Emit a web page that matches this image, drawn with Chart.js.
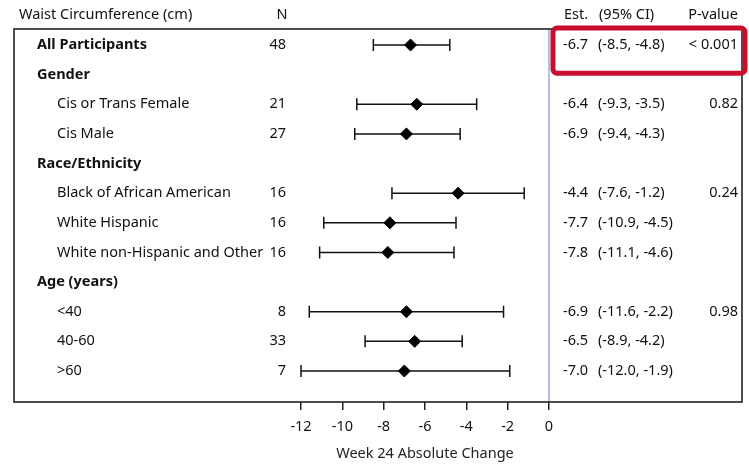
<!DOCTYPE html>
<html><head><meta charset="utf-8">
<script src="https://cdn.jsdelivr.net/npm/chart.js@4/dist/chart.umd.min.js"></script>
<style>html,body{margin:0;padding:0;background:#fff}#wrap{width:749px;height:465px;position:relative}</style>
</head><body><div id="wrap"><canvas id="c"></canvas></div>
<script>
// ---- data ----
const rowLabels = ["All Participants","Gender","Cis or Trans Female","Cis Male","Race/Ethnicity","Black of African American","White Hispanic","White non-Hispanic and Other","Age (years)","<40","40-60",">60"];
const rowIsHeader = [true,true,false,false,true,false,false,false,true,false,false,false];
const nValues = ["48","","21","27","","16","16","16","","8","33","7"];
const estimates = [-6.7,null,-6.4,-6.9,null,-4.4,-7.7,-7.8,null,-6.9,-6.5,-7.0];
const ciLower = [-8.5,null,-9.3,-9.4,null,-7.6,-10.9,-11.1,null,-11.6,-8.9,-12.0];
const ciUpper = [-4.8,null,-3.5,-4.3,null,-1.2,-4.5,-4.6,null,-2.2,-4.2,-1.9];
const pValues = ["< 0.001","","0.82","","","0.24","","","","0.98","",""];
const xTicks = [-12,-10,-8,-6,-4,-2,0];
const axisTitle = "Week 24 Absolute Change";
const colHeaders = {label:"Waist Circumference (cm)", n:"N", est:"Est.", ci:"(95% CI)", p:"P-value"};

const FONT = "'Noto Sans', 'Open Sans', sans-serif";
const fmt = v => v.toFixed(1);

const points = [];
estimates.forEach((e,i)=>{ if(e!==null) points.push({x:e,y:i}); });

const forestPlugin = {
  id:'forest',
  beforeDatasetsDraw(chart){
    const {ctx, chartArea:a, scales:{x,y}} = chart;
    ctx.save();
    const x0 = x.getPixelForValue(0);
    ctx.strokeStyle = '#8d90d6'; ctx.lineWidth = 1.2;
    ctx.beginPath(); ctx.moveTo(x0, a.top); ctx.lineTo(x0, a.bottom); ctx.stroke();
    ctx.strokeStyle = '#111'; ctx.lineWidth = 1.5;
    estimates.forEach((e,i)=>{
      if(e===null) return;
      const yy = y.getPixelForValue(i);
      const xl = x.getPixelForValue(ciLower[i]), xh = x.getPixelForValue(ciUpper[i]);
      ctx.beginPath();
      ctx.moveTo(xl, yy); ctx.lineTo(xh, yy);
      ctx.moveTo(xl, yy-6); ctx.lineTo(xl, yy+6);
      ctx.moveTo(xh, yy-6); ctx.lineTo(xh, yy+6);
      ctx.stroke();
    });
    ctx.restore();
  },
  afterDraw(chart){
    const {ctx, chartArea:a, scales:{x,y}} = chart;
    ctx.save();
    // frame
    ctx.strokeStyle = '#222'; ctx.lineWidth = 1.6;
    ctx.strokeRect(a.left, a.top, a.right-a.left, a.bottom-a.top);
    const x0 = x.getPixelForValue(0);
    const nRight = x.getPixelForValue(-12) - 15;
    ctx.fillStyle = '#111';
    ctx.textBaseline = 'middle';
    const fs = 14.5;
    // headers
    const hy = a.top - 14;
    ctx.font = `${fs}px ${FONT}`;
    ctx.textAlign = 'left'; ctx.fillText(colHeaders.label, a.left+5, hy);
    ctx.textAlign = 'center'; ctx.fillText(colHeaders.n, nRight-4, hy);
    ctx.textAlign = 'left'; ctx.fillText(colHeaders.est, x0+15, hy);
    ctx.fillText(colHeaders.ci, x0+50, hy);
    ctx.textAlign = 'right'; ctx.fillText(colHeaders.p, a.right-4, hy);
    // rows
    rowLabels.forEach((lab,i)=>{
      const yy = y.getPixelForValue(i);
      ctx.font = `${rowIsHeader[i]?'bold ':''}${fs}px ${FONT}`;
      ctx.textAlign = 'left';
      ctx.fillText(lab, a.left + (rowIsHeader[i]?23:43), yy);
      ctx.font = `${fs}px ${FONT}`;
      if(nValues[i]){ ctx.textAlign='right'; ctx.fillText(nValues[i], nRight, yy); }
      if(estimates[i]!==null){
        ctx.textAlign='left';
        ctx.fillText(fmt(estimates[i]), x0+14, yy);
        ctx.fillText(`(${fmt(ciLower[i])}, ${fmt(ciUpper[i])})`, x0+49, yy);
      }
      if(pValues[i]){ ctx.textAlign='right'; ctx.fillText(pValues[i], a.right-4, yy); }
    });
    // axis title
    ctx.font = `${fs}px ${FONT}`;
    ctx.textAlign='center'; ctx.fillStyle='#222';
    ctx.fillText(axisTitle, (x.getPixelForValue(-12)+x.getPixelForValue(0))/2, a.bottom+52);
    // highlight box
    const top = a.top-1, bottom = y.getPixelForValue(0.95);
    const left = x0+4, right = a.right+3, r = 4;
    ctx.strokeStyle = '#c8102e'; ctx.lineWidth = 5;
    ctx.beginPath();
    ctx.roundRect(left, top, right-left, bottom-top, r);
    ctx.stroke();
    ctx.restore();
  }
};

new Chart(document.getElementById('c'), {
  type:'scatter',
  data:{datasets:[{data:points, pointStyle:'rectRot', pointRadius:6, pointHoverRadius:6,
    backgroundColor:'#000', borderColor:'#000', borderWidth:1}]},
  options:{
    responsive:true, maintainAspectRatio:false, animation:false,
    layout:{padding:{left:14, top:29, right:7, bottom:0}},
    plugins:{legend:{display:false}, tooltip:{enabled:false}},
    scales:{
      x:{type:'linear', min:-25.89, max:9.34,
        afterBuildTicks:s=>{ s.ticks = xTicks.map(v=>({value:v})); },
        afterFit:s=>{ s.height = 63; },
        grid:{drawOnChartArea:false, drawTicks:true, tickLength:8, color:'#222', lineWidth:1.5},
        border:{display:false},
        ticks:{font:{family:FONT, size:14.5}, color:'#111', padding:8, maxRotation:0, autoSkip:false}
      },
      y:{type:'linear', reverse:true, min:-0.54, max:12.046, display:false}
    }
  },
  plugins:[forestPlugin]
});
</script></body></html>
